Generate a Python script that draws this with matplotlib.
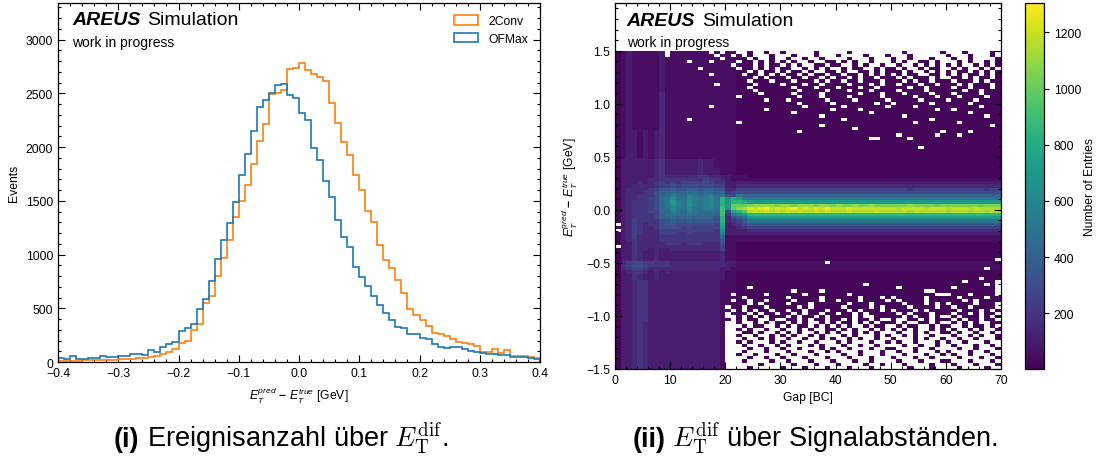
import numpy as np
import matplotlib
matplotlib.use("Agg")
import matplotlib.pyplot as plt
from matplotlib.ticker import MultipleLocator

plt.rcParams["font.family"] = "Liberation Sans"
plt.rcParams["mathtext.fontset"] = "custom"
plt.rcParams["mathtext.rm"] = "Liberation Sans"
plt.rcParams["mathtext.it"] = "Liberation Sans:italic"
plt.rcParams["mathtext.bf"] = "Liberation Sans:bold"
plt.rcParams["axes.linewidth"] = 0.9

# ---- left panel: E_T^pred - E_T^true histograms (bins of 0.01 GeV from -0.4 to 0.4)
hist_edges = np.linspace(-0.4, 0.4, 81)
ofmax = [37, 25, 53, 25, 25, 34, 40, 59, 47, 47, 59, 59, 78, 72, 65, 109, 97, 137, 171, 187,
         290, 315, 358, 489, 583, 754, 956, 1137, 1296, 1486, 1738, 1938, 2153, 2377, 2433, 2505, 2573, 2583, 2480, 2458,
         2321, 2255, 1991, 1875, 1685, 1536, 1321, 1162, 1072, 882, 788, 704, 611, 533, 455, 393, 324, 315, 265, 259,
         227, 212, 165, 143, 128, 143, 137, 118, 103, 93, 87, 78, 72, 65, 65, 50, 50, 45, 35, 30]
conv2 = [8, 10, 12, 10, 14, 15, 18, 16, 20, 22, 25, 28, 28, 33, 38, 47, 56, 78, 97, 121,
         178, 193, 299, 349, 551, 611, 801, 963, 1137, 1346, 1502, 1648, 1841, 2053, 2215, 2489, 2501, 2530, 2723, 2738,
         2782, 2713, 2676, 2654, 2614, 2414, 2224, 2044, 1928, 1741, 1604, 1405, 1305, 1084, 947, 870, 760, 640, 490, 440,
         393, 336, 274, 259, 246, 212, 190, 174, 165, 150, 97, 90, 118, 81, 112, 59, 60, 55, 45, 40]
series_labels = ["2Conv", "OFMax"]

# ---- right panel: entries per (gap, E_T diff) cell
# rows from top (1.47..1.50) to bottom (-1.50..-1.47), 70 gap columns in groups of 10
# '.' = empty cell, '0' = ~20 entries, other base-36 digits k = 50*k entries
gap_edges = np.arange(0, 71)
diff_edges = np.linspace(-1.5, 1.5, 101)
heat_rows = [
    "012111112. 1111111.1. 11..0..0.. 0.....0... ..0....... ..0......0 ...0....0.",
    "012111112. 11111111.1 1.1.0...0. ..0...0... 0....0...0 ...0...... 0...0...0.",
    "0121111121 111111111. 1100.0..0. .0..0..0.. ..0...0... 0..0...0.. .0..0....0",
    "0121111121 111.111.11 11.00.0.0. 0.0..0..00 .0.0..0... 0.0..00.0. ..0.0..0.0",
    "0121111121 1111111111 1.100.0.00 .0.0..00.0 0..0.0..0. .0..0.0.0. 0.0..0.0.0",
    "0121111121 11111.1111 11.00.0.0. 00..0.0.0. .0.00..0.0 0.0..0.00. .0.0..0.0.",
    "0121111121 1111111111 1100.0.00. 0.00.0..00 .0..00.0.0 00.0..0.0. 0.00.0.0.0",
    "0121111121 1111111.11 110.00.0.0 .00.0.00.0 0.00.0.0.0 .0.00..00. 0.0.00.0.0",
    "0121111121 1111111111 11000.0.00 0.00.00.0. 00.0.00.00 0.0.000.0. .00.0.00.0",
    "0121111121 1111111111 1100.000.0 00.000.0.0 0.00.000.0 00.0.00.00 0.000.0.00",
    "0121111121 11111111.1 11000.0000 .000.00.00 00.000.0.0 0.000.00.0 00.0.000.0",
    "0121111121 1111111111 1100.00000 00.000.000 .000.00.00 000.00.000 0.00.000.0",
    "0121111121 1111111111 11000.0000 000.0000.0 00.000.000 0.0000.000 000.00.000",
    "0121111131 1111111111 110000.000 00.0000.00 0000.000.0 00.0000.00 0.0000.000",
    "0121111131 1111111111 11.0000000 000.000.00 00.00000.0 0000.000.0 00.0000.00",
    "0121111131 1111111111 1100000.00 0.000000.0 000.00000. 00000.0000 .0000.0000",
    "0121111131 1111111111 1100000000 000.00000. 0000000.00 .000000.00 0000.00000",
    "0121111131 1111111.11 1100000000 0000.00000 0.0000000. 0000.00000 000000.000",
    "0121111131 1111111111 1100000.00 000000000. 0000.00000 00000000.0 0.00000000",
    "0121111131 1111111111 1100000000 00.0000000 000000.000 0000000000 0000.00000",
    "0121111131 1111111111 1100000000 0000000.00 0000000000 00.0000000 0000000.00",
    "0121111131 111.111111 1100000000 0000000000 0.00000000 0000000.00 0000000000",
    "0121111131 1111111111 11.0000000 0000000000 0000000000 0000.00000 00.0000000",
    "0121111131 1111111111 1100000000 0000000.00 0000000000 0000000000 00000000.0",
    "0121111131 1111111111 1100000000 0000000000 000.000000 0000000000 0000000000",
    "0122121231 1111111111 1100000000 000.000000 0000000000 000000000. 0000.00000",
    "0122121231 1111111111 1100000000 0000000000 0000000000 0.000000.0 00.0000000",
    "0122121231 1111111111 1100000000 0000000000 000000..00 000.000000 0000000000",
    "0122121231 1111111111 1100000000 0000000000 0000000000 0000000000 0000000000",
    "0122121231 1111111111 1100000000 0000000000 0000000000 0000000000 0000000000",
    "0122121231 1111111111 1100000000 0000000000 0000000000 00000.0000 0000000000",
    "0122121231 1111111111 1100000000 0000000000 0000000000 0000000000 0000000000",
    "0122121231 1111111111 1100000000 0000000000 0000000000 0000000000 0000000000",
    "0122121231 1111111111 1100000000 0000000000 0000000000 0000000000 0000000000",
    "0222222342 2222232211 1100000000 0000000000 0000000000 0000000000 0000000000",
    "0222222342 2222232211 1100000000 0000000000 0000000000 0000000000 0000000000",
    "0222222342 2222232211 1100000000 0000000000 0000000000 0000000000 0000000000",
    "0222222342 2222232221 1100000000 0000000000 0000000000 0000000000 0000000000",
    "0222222342 2222232221 1100000000 0000000000 0000000000 0000000000 0000000000",
    "0222222343 3333344332 2111000000 0000000000 0000000000 0000000000 0000000000",
    "0222223344 4444445443 2111111111 1111111111 1111111111 1111111111 1111111111",
    "0222323454 5455556544 2222222222 2222222222 2222222222 2222222222 2222222222",
    "0223333455 6566656655 2233333333 3333333333 3333333333 3333333333 3333333333",
    "0233334577 8778878877 3355555555 5555555555 5555555555 5554555555 5555555455",
    "0233344688 9889989989 4566666666 6666666666 6666666666 6666666666 6666666666",
    "0233444689 b99ba9ab9a 66a8888888 8888888888 8888888888 8888888888 8888888888",
    "023344569a daacbabcah dgebaaaaaa aaaaaaaaaa aaaaaaaaaa aaaaaaaaaa aaaaaaaaaa",
    "023444569a ebadbabcah ehhgeeeeee eeeeeeeeee eeeeeeeeee eeeeeeeeee eeeeeeeeee",
    "023444569a dbadbabcah ekkklmmmml mmlmmmlmml mllmllmlll lllmllllkl llllllklll",
    "023444569a caacaabbai dkmnpopqop opqopopoqo oopooooooo onoooonooo nooononnnn",
    "0234445599 ba9ba9aa9i 6fhjnonono nononnonon nnonnnnonn nnnmnnnnnn mnnnmnnmnn",
    "0234444589 a99a99998i 4acehhhhhh hhhhhhhhhh hhhhhhhhhh hhhhhhhhhh hhhhhhhhhh",
    "0234444588 988988887h 368aeeeeee eeeeeeeeee eeeeeeeeee eeeeeeeeee eeeeeeeeee",
    "0235444477 877877776h 3457aaaaaa aaaaaaaaaa aaaaaaaaaa aaaaaaaaaa aaaaaaaaaa",
    ".235434467 766766665g 2345777777 7777777777 7777777777 7777777777 7777777777",
    "0235433466 665655555f 2234555555 5555555555 5555555555 5555555555 5555555555",
    ".235433355 555555554d 2222333333 3333333333 3333333333 3333333333 3333333333",
    "0235433355 544544444b 2222222222 2222222222 2222222222 2222222222 2222222222",
    "0235333344 4444444449 1111111111 1111111111 1111111111 1111111111 1111111111",
    "0234333344 4444444447 1111111111 1111111111 1111111111 1111111111 1111111111",
    "0224333334 4434443336 1100000000 0000000000 0000000000 0000000000 0000000000",
    ".224333333 3333333335 1100000000 0000000000 0000000000 0000000000 0000000000",
    "0224332322 3333333335 1100000000 0000000000 0000000000 0000000000 0000000000",
    "0224322322 2222222223 1100000000 0000000000 0000000000 0000000000 0000000000",
    "0224322322 2222222223 1100000000 0000000000 0000000000 0000000000 0000000000",
    "0224322322 2222222223 1100000000 0000000000 0000000000 0000000000 000000000.",
    "0356655444 3333333333 2211111111 11111111.1 1111111111 1111111111 1111111111",
    "0456654444 3333333333 2211111111 1111111111 1111111111 1111111111 1111111111",
    "0345543333 3333333332 2111111111 1111111111 1111111111 1111111111 1111111.11",
    "0234432323 2222222222 1100000000 0000000000 0000000000 0000000000 0000000000",
    "0224322322 2222222222 1100000000 0000000000 0000000000 0000000000 0000000000",
    "0224322322 2222222222 1100000000 0000000000 0000000000 0000000000 000000.000",
    "0223442222 2222222221 1100000000 0000000000 0000000000 0000000000 000.00000.",
    "0223442222 2222222221 1100000000 0000000000 00000.0000 0000000000 0000000.0.",
    "0223442222 2222222221 1100.00000 0000000000 0000000000 0.00000000 0.0000000.",
    "0223442222 2222222221 1100000000 00.0000.00 0000000000 000000..00 000000000.",
    "0223442222 2222222221 1.00000.00 0000.00000 00.0000000 00000000.. .000.0000.",
    "0223442222 2222222221 110.000000 0.00000.00 0000.000.0 .00000.000 00.0000.00",
    "0223442222 2222222221 1.00.00.00 00.0000.00 .000.0000. 0.0000.000 000.0.0000",
    "0223442222 2222222221 1100.0.000 0.000.0000 00.000.000 00.000.0.0 .0000.000.",
    "0223442222 2222222221 .10.000.00 000.0.0000 0.0000.0.0 000.0000.0 0.00.0000.",
    "0223442222 2222222221 1.0.0.00.0 0.00.000.0 00.0.000.0 .000.0.000 00.000.0.0",
    "0223442222 2222222221 .100.0.00. 00.0.00.00 .00.0.0000 0.0.000.00 0.00.0.00.",
    "0223442222 2222222221 ..0.0.0.00 0.0.00.0.0 000.0..000 00.0.00.0. .0.000.0.0",
    "0223442222 2222222221 1.0.00..0. .00.0.00.0 0.0.00.0.. 0..00.0.00 0.0.00.00.",
    "0223432222 2222222221 ..0..0.0.0 0.0.0..0.0 .00.0.0.00 0.0..00.0. .0.0.0..00",
    "0223432222 2222222221 ...0.00..0 .0.00.0.0. 0.0..0.00. .0.00..0.0 0..0.00.0.",
    "0223432222 2222222221 ..0.0..0.. 0..0.0..00 .0.0..0.0. 0.0.0..0.0 .0..0.0..0",
    "0223432222 2222222221 ...00.0..0 .0.0..0.0. 0..0.0.0.. .0..0.0..0 0.0..0..0.",
    "0223432222 2222222221 ..0..0..0. 0.0..0.0.. .0.0...0.0 ..0.0..0.. .0..0.0..0",
    "0223432222 2222222221 ...0..0.0. .0..0..0.0 ..0.0..0.. 0...0.0..0 ..0..0...0",
    "0223432222 2222222221 ..0.0...0. 0..0..0... 0.0...0..0 .0..0...0. 0..0...0..",
    "0223432222 2222222221 ...0..0..0 .0...0.0.. .0..0..0.. ..0..0..0. .0...0..0.",
    "0223432222 2222222221 ....0..0.. 0..0...0.0 ..0...0..0 0...0..0.. ..0..0...0",
    "0223432222 2222222221 ...0...0.. .0...0..0. 0...0...0. .0..0...0. 0...0..0..",
    "0223432222 2222222221 ..0..0...0 ..0...0... .0..0...0. ..0...0..0 .0..0...0.",
    "0223432222 2222222221 ....0..0.. 0...0...0. ..0...0... 0...0..0.. ..0...0..0",
    "0223432222 2222222221 ...0....0. .0...0...0 ...0..0... .0...0...0 0...0...0.",
    "0223432222 2222222221 ......0... ..0...0... 0....0..0. ..0....0.. .0...0...0",
    "0223432222 2222222221 ....0..... 0...0...0. ..0...0... ...0...0.. ..0....0..",
]

bad = [i for i, r in enumerate(heat_rows) if len(r.replace(" ", "")) != 70]
if bad or len(heat_rows) != 100:
    raise SystemExit("bad rows %s (n=%d)" % (bad, len(heat_rows)))


def decode(ch):
    if ch == ".":
        return np.nan
    if ch == "0":
        return 20.0
    return 50.0 * int(ch, 36)


grid = np.array([[decode(c) for c in r.replace(" ", "")] for r in heat_rows])
counts = np.ma.masked_invalid(grid[::-1])

fig = plt.figure(figsize=(10.99, 4.64), dpi=100)
ax1 = fig.add_axes([58 / 1099, 1 - 363 / 464, 482 / 1099, 359 / 464])
ax2 = fig.add_axes([615 / 1099, 1 - 370 / 464, 386 / 1099, 366 / 464])
cax = fig.add_axes([1025 / 1099, 1 - 370 / 464, 19 / 1099, 366 / 464])

FS = 8.7

# left histograms
ax1.hist(hist_edges[:-1], bins=hist_edges, weights=conv2, histtype="step",
         color="#ff7f0e", lw=1.2, label=series_labels[0])
ax1.hist(hist_edges[:-1], bins=hist_edges, weights=ofmax, histtype="step",
         color="#1f77b4", lw=1.2, label=series_labels[1])
ax1.set_xlim(-0.4, 0.4)
ax1.set_ylim(0, 3340)
ax1.xaxis.set_major_locator(MultipleLocator(0.1))
ax1.xaxis.set_minor_locator(MultipleLocator(0.02))
ax1.yaxis.set_major_locator(MultipleLocator(500))
ax1.yaxis.set_minor_locator(MultipleLocator(100))
ax1.set_xlabel(r"$E_T^{pred}$ $\mathbf{-}$ $E_T^{true}$ [GeV]", fontsize=FS)
ax1.set_ylabel("Events", fontsize=FS)
ax1.legend(loc="upper right", frameon=False, fontsize=FS, handlelength=2.0,
           handleheight=0.8, borderaxespad=0.6, labelspacing=0.45)

# right heatmap
mesh = ax2.pcolormesh(gap_edges, diff_edges, counts, cmap="viridis", vmin=1, vmax=1305)
ax2.set_xlim(0, 70)
ax2.set_ylim(-1.5, 1.95)
ax2.xaxis.set_major_locator(MultipleLocator(10))
ax2.xaxis.set_minor_locator(MultipleLocator(2))
ax2.yaxis.set_major_locator(MultipleLocator(0.5))
ax2.yaxis.set_minor_locator(MultipleLocator(0.1))
ax2.set_xlabel("Gap [BC]", fontsize=FS)
ax2.set_ylabel(r"$E_T^{pred}$ $\mathbf{-}$ $E_T^{true}$ [GeV]", fontsize=FS)

for ax in (ax1, ax2):
    ax.tick_params(which="both", direction="in", top=True, right=True, labelsize=FS, width=0.8)
    ax.tick_params(which="major", length=5)
    ax.tick_params(which="minor", length=2.5)

cb = fig.colorbar(mesh, cax=cax)
cb.set_ticks([200, 400, 600, 800, 1000, 1200])
cb.ax.tick_params(direction="out", length=3.5, width=0.8, labelsize=FS)
cb.ax.minorticks_off()
cb.set_label("Number of Entries", fontsize=FS, labelpad=2)
cb.outline.set_linewidth(0.9)

# experiment labels
for ax, x0 in ((ax1, 0.029), (ax2, 0.03)):
    t = ax.text(x0, 0.93, "AREUS", transform=ax.transAxes, fontsize=14,
                fontweight="bold", fontstyle="italic", va="bottom")
    ax.annotate("Simulation", xy=(1, 0), xycoords=t, xytext=(5, 0),
                textcoords="offset points", fontsize=14, va="bottom")
    ax.text(x0, 0.883 if ax is ax2 else 0.881, "work in progress", transform=ax.transAxes,
            fontsize=10, va="baseline")

# captions below the panels
CAP = 19.5
renderer = fig.canvas.get_renderer()


def caption(xc, tag, rest):
    t1 = fig.text(0, 0.037, tag, fontsize=CAP, fontweight="bold", va="baseline")
    t2 = fig.text(0, 0.037, rest, fontsize=CAP, math_fontfamily="cm", va="baseline")
    w1 = t1.get_window_extent(renderer).width / fig.bbox.width
    w2 = t2.get_window_extent(renderer).width / fig.bbox.width
    x0 = xc - (w1 + w2) / 2
    t1.set_x(x0)
    t2.set_x(x0 + w1)


caption(281 / 1099, "(i)", r" Ereignisanzahl über $E_{\mathrm{T}}^{\mathrm{dif}}$.")
caption(815 / 1099, "(ii)", r" $E_{\mathrm{T}}^{\mathrm{dif}}$ über Signalabständen.")

fig.savefig("out.png", dpi=100)
